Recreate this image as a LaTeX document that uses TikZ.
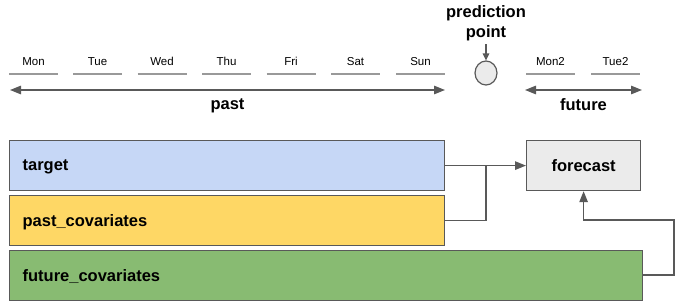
\documentclass[tikz,border=0pt]{standalone}
\usepackage{fontspec}
\setmainfont{Liberation Sans}
\usetikzlibrary{arrows.meta,positioning,shapes.geometric}
\definecolor{edgegrey}{HTML}{595959}
\definecolor{tickgrey}{HTML}{999999}
\definecolor{targetblue}{HTML}{C6D7F6}
\definecolor{pastyellow}{HTML}{FED765}
\definecolor{futuregreen}{HTML}{88BB72}
\definecolor{fcgrey}{HTML}{EBEBEB}

\begin{document}
\begin{tikzpicture}[x=1pt, y=-1pt, >={Triangle[length=11pt,width=8.5pt]},
  series/.style={draw=edgegrey, line width=1.2pt, anchor=north west, minimum height=50pt,
    inner xsep=13pt, text depth=0pt, align=left, font=\bfseries\fontsize{16.5}{19}\selectfont},
  day/.style={font=\fontsize{11.5}{13}\selectfont},
  tick/.style={draw=tickgrey, line width=1.4pt},
  conn/.style={draw=edgegrey, line width=1.3pt},
  span/.style={draw=edgegrey, line width=1.3pt, <->},
  bold/.style={font=\bfseries\fontsize{16.5}{20}\selectfont}]
\useasboundingbox (0,0) rectangle (686,308);
% time axis
\foreach \d/\x in {Mon/33.5, Tue/97.5, Wed/162, Thu/226.5, Fri/291, Sat/355.5, Sun/420.5, Mon2/550.5, Tue2/615.5} {
  \node[day] (d-\d) at (\x,61.5) {\d};
  \draw[tick] (\x-24.5,74) -- (\x+24.5,74);
}
\coordinate (past-l) at (10,90);\coordinate (past-r) at (445,90);
\coordinate (fut-l) at (525,90);\coordinate (fut-r) at (642,90);
\draw[span] (past-l) -- (past-r) node[midway, below=5pt, bold] (past-lbl) {past};
\draw[span] (fut-l) -- (fut-r) node[midway, below=5pt, bold] (fut-lbl) {future};
% prediction point
\node[bold, align=center] (pred) at (486,23) {prediction\\point};
\node[ellipse, draw=edgegrey, fill=fcgrey, line width=1.2pt, minimum width=22pt, minimum height=24pt, inner sep=0pt] (pp) at (486,73) {};
\draw[conn, >={Triangle[length=7pt,width=6.5pt]}, ->] (pred.south) -- (pp.north);
% series
\node[series, fill=targetblue, text width=409pt] (target) at (9,140) {target};
\node[series, fill=pastyellow, text width=409pt] (past) at (9,195) {past\_covariates};
\node[series, fill=futuregreen, text width=607pt] (future) at (9,249.5) {future\_covariates};
\node[draw=edgegrey, fill=fcgrey, line width=1.2pt, minimum width=114pt, minimum height=50pt, anchor=north west, bold] (fc) at (526,140) {forecast};
% connectors
\coordinate (merge) at (486,165);
\coordinate (bend) at (674,220);
\draw[conn, ->] (target.east) -- (fc.west);
\draw[conn] (past.east) -| (merge);
\draw[conn, ->] (future.east) -| (bend) -| (fc.south);
\end{tikzpicture}
\end{document}
